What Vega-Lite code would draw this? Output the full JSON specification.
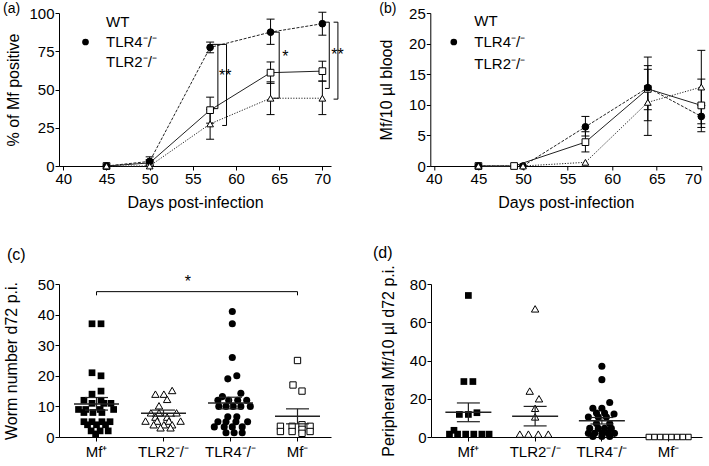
{
"$schema":"https://vega.github.io/schema/vega-lite/v6.json",
"background":"white",
"padding":{"left":2,"top":2,"right":0,"bottom":0},
"spacing":34,
"resolve":{"scale":{"shape":"independent","fill":"independent","xOffset":"independent"},"legend":{"shape":"independent","fill":"independent"}},
"datasets":{
"a":[
{"day":45,"group":"WT","value":0},
{"day":50,"group":"WT","value":2,"lo":0,"hi":4},
{"day":57,"group":"WT","value":36.5,"lo":28,"hi":45},
{"day":64,"group":"WT","value":61,"lo":54,"hi":68},
{"day":70,"group":"WT","value":62,"lo":55.5,"hi":68.5},
{"day":45,"group":"TLR4⁻/⁻","value":0},
{"day":50,"group":"TLR4⁻/⁻","value":3,"lo":0.5,"hi":6},
{"day":57,"group":"TLR4⁻/⁻","value":77.5,"lo":74,"hi":81},
{"day":64,"group":"TLR4⁻/⁻","value":87.5,"lo":79.5,"hi":96},
{"day":70,"group":"TLR4⁻/⁻","value":93,"lo":85.5,"hi":100.5},
{"day":45,"group":"TLR2⁻/⁻","value":0},
{"day":50,"group":"TLR2⁻/⁻","value":0},
{"day":57,"group":"TLR2⁻/⁻","value":27.5,"lo":17.5,"hi":37},
{"day":64,"group":"TLR2⁻/⁻","value":44.3,"lo":33.6,"hi":55},
{"day":70,"group":"TLR2⁻/⁻","value":44.3,"lo":33.6,"hi":55.5}
],
"aAnn":[
{"day":57.9,"day2":57.9,"value":79.5,"value2":37.5},
{"day":57.2,"day2":58.9,"value":79.5,"value2":79.5},
{"day":57.4,"day2":57.9,"value":37.5,"value2":37.5},
{"day":58.9,"day2":58.9,"value":79.5,"value2":26.5},
{"day":58.4,"day2":58.9,"value":26.5,"value2":26.5},
{"day":65,"day2":65,"value":87.5,"value2":44.3},
{"day":64.3,"day2":65,"value":87.5,"value2":87.5},
{"day":64.3,"day2":65,"value":44.3,"value2":44.3},
{"day":70.8,"day2":70.8,"value":94,"value2":50.7},
{"day":70.3,"day2":70.8,"value":94,"value2":94},
{"day":70.3,"day2":70.8,"value":50.7,"value2":50.7},
{"day":71.8,"day2":71.8,"value":94,"value2":43.7},
{"day":71.3,"day2":71.8,"value":94,"value2":94},
{"day":71.3,"day2":71.8,"value":43.7,"value2":43.7}
],
"aStar":[
{"day":58.75,"value":59,"label":"**"},
{"day":65.7,"value":71,"label":"*"},
{"day":71.75,"value":72.5,"label":"**"}
],
"b":[
{"day":45,"group":"WT","value":0},
{"day":49,"group":"WT","value":0},
{"day":57,"group":"WT","value":3.9,"lo":2.3,"hi":5.6},
{"day":64,"group":"WT","value":12.6,"lo":7.4,"hi":17.8},
{"day":70,"group":"WT","value":9.9,"lo":5.6,"hi":14.2},
{"day":45,"group":"TLR4⁻/⁻","value":0},
{"day":50,"group":"TLR4⁻/⁻","value":0},
{"day":57,"group":"TLR4⁻/⁻","value":6.4,"lo":4.9,"hi":8.1},
{"day":64,"group":"TLR4⁻/⁻","value":12.8,"lo":9.2,"hi":16.4},
{"day":70,"group":"TLR4⁻/⁻","value":8.1,"lo":6.3,"hi":9.9},
{"day":45,"group":"TLR2⁻/⁻","value":0},
{"day":50,"group":"TLR2⁻/⁻","value":0},
{"day":57,"group":"TLR2⁻/⁻","value":0.6},
{"day":64,"group":"TLR2⁻/⁻","value":10.4,"lo":5.0,"hi":15.8},
{"day":70,"group":"TLR2⁻/⁻","value":12.9,"lo":6.9,"hi":18.9}
],
"c":[
{"group":"Mf⁺","value":37,"slot":-0.5},{"group":"Mf⁺","value":37,"slot":0.5},
{"group":"Mf⁺","value":21,"slot":-0.5},{"group":"Mf⁺","value":20,"slot":0.5},
{"group":"Mf⁺","value":15,"slot":0.5},{"group":"Mf⁺","value":14,"slot":-0.5},
{"group":"Mf⁺","value":12,"slot":-1.4},{"group":"Mf⁺","value":12,"slot":0.5},
{"group":"Mf⁺","value":11,"slot":-0.5},{"group":"Mf⁺","value":11,"slot":0.8},{"group":"Mf⁺","value":11,"slot":1.6},
{"group":"Mf⁺","value":9,"slot":-2},{"group":"Mf⁺","value":9,"slot":-1.2},{"group":"Mf⁺","value":9,"slot":0.4},{"group":"Mf⁺","value":9,"slot":1.9},
{"group":"Mf⁺","value":8,"slot":-1.4},{"group":"Mf⁺","value":8,"slot":-0.4},{"group":"Mf⁺","value":8,"slot":0.6},
{"group":"Mf⁺","value":5,"slot":-1.4},{"group":"Mf⁺","value":5,"slot":-0.5},{"group":"Mf⁺","value":5,"slot":0.6},{"group":"Mf⁺","value":5,"slot":1.5},
{"group":"Mf⁺","value":4,"slot":-1},{"group":"Mf⁺","value":4,"slot":0},{"group":"Mf⁺","value":4,"slot":1},
{"group":"Mf⁺","value":2,"slot":-0.6},{"group":"Mf⁺","value":2,"slot":0.4},{"group":"Mf⁺","value":2,"slot":1.3},
{"group":"Mf⁺","value":1,"slot":-0.1},
{"group":"TLR2⁻/⁻","value":15.2,"slot":0.96},{"group":"TLR2⁻/⁻","value":14,"slot":-0.9},{"group":"TLR2⁻/⁻","value":14,"slot":0.04},
{"group":"TLR2⁻/⁻","value":12.3,"slot":0.4},{"group":"TLR2⁻/⁻","value":10.2,"slot":-0.5},
{"group":"TLR2⁻/⁻","value":7.9,"slot":-1.4},{"group":"TLR2⁻/⁻","value":7.9,"slot":-0.5},{"group":"TLR2⁻/⁻","value":7.9,"slot":1.45},
{"group":"TLR2⁻/⁻","value":6.5,"slot":-0.9},{"group":"TLR2⁻/⁻","value":6.5,"slot":0.4},
{"group":"TLR2⁻/⁻","value":5.2,"slot":-2},{"group":"TLR2⁻/⁻","value":5.2,"slot":-0.7},{"group":"TLR2⁻/⁻","value":5.2,"slot":0.6},{"group":"TLR2⁻/⁻","value":5.2,"slot":1.9},
{"group":"TLR2⁻/⁻","value":4,"slot":-1.1},{"group":"TLR2⁻/⁻","value":4,"slot":0.04},{"group":"TLR2⁻/⁻","value":4,"slot":0.96},
{"group":"TLR2⁻/⁻","value":3,"slot":-0.33},{"group":"TLR2⁻/⁻","value":3,"slot":0.78},
{"group":"TLR4⁻/⁻","value":41,"slot":0.2},{"group":"TLR4⁻/⁻","value":37,"slot":0.2},{"group":"TLR4⁻/⁻","value":26,"slot":0.2},
{"group":"TLR4⁻/⁻","value":19,"slot":-0.3},{"group":"TLR4⁻/⁻","value":20,"slot":0.7},
{"group":"TLR4⁻/⁻","value":14.3,"slot":1.15},{"group":"TLR4⁻/⁻","value":13.2,"slot":-0.9},
{"group":"TLR4⁻/⁻","value":12,"slot":-1.4},{"group":"TLR4⁻/⁻","value":12,"slot":-0.2},{"group":"TLR4⁻/⁻","value":12,"slot":0.8},{"group":"TLR4⁻/⁻","value":12,"slot":1.8},
{"group":"TLR4⁻/⁻","value":10,"slot":-1.3},{"group":"TLR4⁻/⁻","value":10,"slot":-0.5},{"group":"TLR4⁻/⁻","value":10,"slot":0.3},{"group":"TLR4⁻/⁻","value":10,"slot":1.15},{"group":"TLR4⁻/⁻","value":10,"slot":2.2},
{"group":"TLR4⁻/⁻","value":6.6,"slot":-0.3},{"group":"TLR4⁻/⁻","value":6.6,"slot":0.7},
{"group":"TLR4⁻/⁻","value":5,"slot":-1.4},{"group":"TLR4⁻/⁻","value":5,"slot":-0.5},{"group":"TLR4⁻/⁻","value":5,"slot":0.6},{"group":"TLR4⁻/⁻","value":5,"slot":1.9},
{"group":"TLR4⁻/⁻","value":3.3,"slot":-1.8},{"group":"TLR4⁻/⁻","value":3.3,"slot":-0.7},{"group":"TLR4⁻/⁻","value":3.3,"slot":0.2},{"group":"TLR4⁻/⁻","value":3.3,"slot":1.3},
{"group":"TLR4⁻/⁻","value":1.4,"slot":-0.5},{"group":"TLR4⁻/⁻","value":1.4,"slot":0.4},{"group":"TLR4⁻/⁻","value":1.4,"slot":1.3},
{"group":"Mf⁻","value":25,"slot":0},{"group":"Mf⁻","value":17,"slot":-0.5},{"group":"Mf⁻","value":15,"slot":0.5},
{"group":"Mf⁻","value":3.5,"slot":-1.9},{"group":"Mf⁻","value":1.8,"slot":-1.9},
{"group":"Mf⁻","value":3.5,"slot":-0.6},{"group":"Mf⁻","value":1.8,"slot":-0.6},
{"group":"Mf⁻","value":4,"slot":0.5},{"group":"Mf⁻","value":2.5,"slot":0.5},{"group":"Mf⁻","value":1.2,"slot":0.5},
{"group":"Mf⁻","value":3.5,"slot":1.4},{"group":"Mf⁻","value":1.8,"slot":1.4}
],
"cStats":[
{"group":"Mf⁺","mean":10.8,"lo":8.8,"hi":12.9},
{"group":"TLR2⁻/⁻","mean":7.8,"lo":6.8,"hi":8.8},
{"group":"TLR4⁻/⁻","mean":11.1,"lo":9.2,"hi":13.0},
{"group":"Mf⁻","mean":6.8,"lo":4.3,"hi":9.2}
],
"cSig":[
{"g1":"Mf⁺","g2":"Mf⁻","value":47.5,"value2":47.5},
{"g1":"Mf⁺","g2":"Mf⁺","value":47.5,"value2":46.3},
{"g1":"Mf⁻","g2":"Mf⁻","value":47.5,"value2":46.3}
],
"cStar":[{"group":"TLR2⁻/⁻","slot":2.7,"value":50.8,"label":"*"}],
"d":[
{"group":"Mf⁺","value":74,"slot":0},{"group":"Mf⁺","value":29,"slot":-0.5},{"group":"Mf⁺","value":29,"slot":0.5},
{"group":"Mf⁺","value":11.8,"slot":-1},{"group":"Mf⁺","value":11.8,"slot":0},{"group":"Mf⁺","value":12.7,"slot":0.95},
{"group":"Mf⁺","value":3.5,"slot":-1.6},
{"group":"Mf⁺","value":1.5,"slot":-2.1},{"group":"Mf⁺","value":1.5,"slot":-1.2},{"group":"Mf⁺","value":1.5,"slot":-0.3},{"group":"Mf⁺","value":1.5,"slot":0.6},{"group":"Mf⁺","value":1.5,"slot":1.5},{"group":"Mf⁺","value":1.5,"slot":2.3},
{"group":"TLR2⁻/⁻","value":67,"slot":0},{"group":"TLR2⁻/⁻","value":24,"slot":-0.6},{"group":"TLR2⁻/⁻","value":20,"slot":0.43},
{"group":"TLR2⁻/⁻","value":15,"slot":0},{"group":"TLR2⁻/⁻","value":10.5,"slot":0},
{"group":"TLR2⁻/⁻","value":1.5,"slot":-1.7},{"group":"TLR2⁻/⁻","value":1.5,"slot":-0.75},{"group":"TLR2⁻/⁻","value":1.5,"slot":0.35},{"group":"TLR2⁻/⁻","value":1.5,"slot":1.46},
{"group":"TLR4⁻/⁻","value":37,"slot":0},{"group":"TLR4⁻/⁻","value":30,"slot":0},{"group":"TLR4⁻/⁻","value":18,"slot":0.87},
{"group":"TLR4⁻/⁻","value":15,"slot":-1},{"group":"TLR4⁻/⁻","value":15,"slot":0},
{"group":"TLR4⁻/⁻","value":12.5,"slot":-0.6},{"group":"TLR4⁻/⁻","value":12.5,"slot":0.3},{"group":"TLR4⁻/⁻","value":12,"slot":1.35},
{"group":"TLR4⁻/⁻","value":10.5,"slot":-1.5},{"group":"TLR4⁻/⁻","value":10.5,"slot":-0.4},{"group":"TLR4⁻/⁻","value":10.5,"slot":0.5},
{"group":"TLR4⁻/⁻","value":7.1,"slot":-0.6},{"group":"TLR4⁻/⁻","value":7.1,"slot":0.87},
{"group":"TLR4⁻/⁻","value":4.5,"slot":-1.35},{"group":"TLR4⁻/⁻","value":4.5,"slot":-0.4},{"group":"TLR4⁻/⁻","value":4.5,"slot":0.3},{"group":"TLR4⁻/⁻","value":4.5,"slot":1.05},
{"group":"TLR4⁻/⁻","value":1.9,"slot":-1.5},{"group":"TLR4⁻/⁻","value":1.9,"slot":-0.8},{"group":"TLR4⁻/⁻","value":1.9,"slot":0},{"group":"TLR4⁻/⁻","value":1.9,"slot":0.7},{"group":"TLR4⁻/⁻","value":1.9,"slot":1.4},
{"group":"TLR4⁻/⁻","value":0.3,"slot":-1},{"group":"TLR4⁻/⁻","value":0.3,"slot":0},{"group":"TLR4⁻/⁻","value":0.3,"slot":0.87},
{"group":"Mf⁻","value":0,"slot":-2.2},{"group":"Mf⁻","value":0,"slot":-1.57},{"group":"Mf⁻","value":0,"slot":-0.94},{"group":"Mf⁻","value":0,"slot":-0.31},
{"group":"Mf⁻","value":0,"slot":0.31},{"group":"Mf⁻","value":0,"slot":0.94},{"group":"Mf⁻","value":0,"slot":1.57},{"group":"Mf⁻","value":0,"slot":2.2}
],
"dStats":[
{"group":"Mf⁺","mean":12.9,"lo":8.0,"hi":17.8},
{"group":"TLR2⁻/⁻","mean":10.8,"lo":5.8,"hi":16.0},
{"group":"TLR4⁻/⁻","mean":8.5,"lo":6.8,"hi":10.2}
]
},
"vconcat":[
{"hconcat":[
{
"width":272,"height":153,
"title":{"text":"(a)","offset":-10,"dx":-3,"fontSize":14},
"layer":[
{"data":{"name":"a"},"transform":[{"filter":{"field":"group","equal":"WT"}}],"mark":{"type":"line","stroke":"#222","strokeWidth":1},
"encoding":{
"x":{"field":"day","type":"quantitative","title":"Days post-infection","scale":{"domain":[39.5,71],"nice":false,"zero":false},"axis":{"values":[40,45,50,55,60,65,70],"tickCount":20}},
"y":{"field":"value","type":"quantitative","title":"% of Mf positive","scale":{"domain":[0,100],"nice":false},"axis":{"values":[0,25,50,75,100],"tickCount":20,"titlePadding":7}}}},
{"data":{"name":"a"},"transform":[{"filter":{"field":"group","equal":"TLR4⁻/⁻"}}],"mark":{"type":"line","stroke":"#222","strokeWidth":1,"strokeDash":[3,1.5]},
"encoding":{"x":{"field":"day","type":"quantitative","title":"Days post-infection"},"y":{"field":"value","type":"quantitative","title":"% of Mf positive"}}},
{"data":{"name":"a"},"transform":[{"filter":{"field":"group","equal":"TLR2⁻/⁻"}}],"mark":{"type":"line","stroke":"#222","strokeWidth":1,"strokeDash":[1.2,1.5]},
"encoding":{"x":{"field":"day","type":"quantitative","title":"Days post-infection"},"y":{"field":"value","type":"quantitative","title":"% of Mf positive"}}},
{"data":{"name":"a"},"transform":[{"filter":{"field":"lo","valid":true}}],"mark":{"type":"rule","color":"#000","strokeWidth":1},
"encoding":{"x":{"field":"day","type":"quantitative","title":"Days post-infection"},"y":{"field":"lo","type":"quantitative","title":"% of Mf positive"},"y2":{"field":"hi"}}},
{"data":{"name":"a"},"transform":[{"filter":{"field":"lo","valid":true}},{"fold":["lo","hi"],"as":["end","value"]}],"mark":{"type":"tick","orient":"horizontal","size":8,"thickness":1,"color":"#000","opacity":1},
"encoding":{"x":{"field":"day","type":"quantitative","title":"Days post-infection"},"y":{"field":"value","type":"quantitative","title":"% of Mf positive"}}},
{"data":{"name":"aAnn"},"mark":{"type":"rule","color":"#000","strokeWidth":1},
"encoding":{"x":{"field":"day","type":"quantitative","title":"Days post-infection"},"x2":{"field":"day2"},"y":{"field":"value","type":"quantitative","title":"% of Mf positive"},"y2":{"field":"value2"}}},
{"data":{"name":"aStar"},"mark":{"type":"text","fontSize":16,"baseline":"middle","align":"center","color":"#000"},
"encoding":{"x":{"field":"day","type":"quantitative","title":"Days post-infection"},"y":{"field":"value","type":"quantitative","title":"% of Mf positive"},"text":{"field":"label"}}},
{"data":{"name":"a"},"mark":{"type":"point","filled":true,"stroke":"#000","strokeWidth":1,"size":45,"opacity":1},
"encoding":{"x":{"field":"day","type":"quantitative","title":"Days post-infection"},"y":{"field":"value","type":"quantitative","title":"% of Mf positive"},
"shape":{"field":"group","type":"nominal","scale":{"domain":["WT","TLR4⁻/⁻","TLR2⁻/⁻"],"range":["square","circle","triangle-up"]},
"legend":{"orient":"none","legendX":19,"legendY":1.5,"title":null,"symbolSize":45,"symbolStrokeColor":"#000","symbolStrokeWidth":1,"labelOffset":13,"rowPadding":4}},
"fill":{"field":"group","type":"nominal","scale":{"domain":["WT","TLR4⁻/⁻","TLR2⁻/⁻"],"range":["white","black","white"]},
"legend":{"orient":"none","legendX":19,"legendY":1.5,"title":null,"symbolSize":45,"symbolStrokeColor":"#000","symbolStrokeWidth":1,"labelOffset":13,"rowPadding":4}}}}
]
},
{
"width":271,"height":153,
"title":{"text":"(b)","offset":-10,"dx":1,"fontSize":14},
"layer":[
{"data":{"name":"b"},"transform":[{"filter":{"field":"group","equal":"WT"}}],"mark":{"type":"line","stroke":"#222","strokeWidth":1},
"encoding":{
"x":{"field":"day","type":"quantitative","title":"Days post-infection","scale":{"domain":[39.6,70],"nice":false,"zero":false},"axis":{"values":[40,45,50,55,60,65,70],"tickCount":20}},
"y":{"field":"value","type":"quantitative","title":"Mf/10 µl blood","scale":{"domain":[0,25],"nice":false},"axis":{"values":[0,5,10,15,20,25],"tickCount":20,"titlePadding":14.3}}}},
{"data":{"name":"b"},"transform":[{"filter":{"field":"group","equal":"TLR4⁻/⁻"}}],"mark":{"type":"line","stroke":"#222","strokeWidth":1,"strokeDash":[3,1.5]},
"encoding":{"x":{"field":"day","type":"quantitative","title":"Days post-infection"},"y":{"field":"value","type":"quantitative","title":"Mf/10 µl blood"}}},
{"data":{"name":"b"},"transform":[{"filter":{"field":"group","equal":"TLR2⁻/⁻"}}],"mark":{"type":"line","stroke":"#222","strokeWidth":1,"strokeDash":[1.2,1.5]},
"encoding":{"x":{"field":"day","type":"quantitative","title":"Days post-infection"},"y":{"field":"value","type":"quantitative","title":"Mf/10 µl blood"}}},
{"data":{"name":"b"},"transform":[{"filter":{"field":"lo","valid":true}}],"mark":{"type":"rule","color":"#000","strokeWidth":1},
"encoding":{"x":{"field":"day","type":"quantitative","title":"Days post-infection"},"y":{"field":"lo","type":"quantitative","title":"Mf/10 µl blood"},"y2":{"field":"hi"}}},
{"data":{"name":"b"},"transform":[{"filter":{"field":"lo","valid":true}},{"fold":["lo","hi"],"as":["end","value"]}],"mark":{"type":"tick","orient":"horizontal","size":8,"thickness":1,"color":"#000","opacity":1},
"encoding":{"x":{"field":"day","type":"quantitative","title":"Days post-infection"},"y":{"field":"value","type":"quantitative","title":"Mf/10 µl blood"}}},
{"data":{"name":"b"},"mark":{"type":"point","filled":true,"stroke":"#000","strokeWidth":1,"size":45,"opacity":1},
"encoding":{"x":{"field":"day","type":"quantitative","title":"Days post-infection"},"y":{"field":"value","type":"quantitative","title":"Mf/10 µl blood"},
"shape":{"field":"group","type":"nominal","scale":{"domain":["WT","TLR4⁻/⁻","TLR2⁻/⁻"],"range":["square","circle","triangle-up"]},
"legend":{"orient":"none","legendX":16,"legendY":0,"title":null,"symbolSize":45,"symbolStrokeColor":"#000","symbolStrokeWidth":1,"labelOffset":13,"rowPadding":5.5}},
"fill":{"field":"group","type":"nominal","scale":{"domain":["WT","TLR4⁻/⁻","TLR2⁻/⁻"],"range":["white","black","white"]},
"legend":{"orient":"none","legendX":16,"legendY":0,"title":null,"symbolSize":45,"symbolStrokeColor":"#000","symbolStrokeWidth":1,"labelOffset":13,"rowPadding":5.5}}}}
]
}
],"spacing":34.3,
"resolve":{"scale":{"shape":"independent","fill":"independent"},"legend":{"shape":"independent","fill":"independent"}}},
{"hconcat":[
{
"width":272,"height":153,
"title":{"text":"(c)","offset":11,"dx":4},
"layer":[
{"data":{"name":"c"},"transform":[{"filter":{"field":"group","equal":"Mf⁺"}}],"mark":{"type":"point","shape":"square","filled":true,"color":"#000","size":45,"opacity":1},
"encoding":{
"x":{"field":"group","type":"nominal","scale":{"type":"band","domain":["Mf⁺","TLR2⁻/⁻","TLR4⁻/⁻","Mf⁻"],"paddingInner":0,"paddingOuter":0.03,"align":1},"axis":{"title":null,"labelAngle":0,"labelPadding":3}},
"xOffset":{"field":"slot","type":"quantitative","scale":{"domain":[-3.722,3.722],"range":[0,67]}},
"y":{"field":"value","type":"quantitative","title":"Worm number d72 p.i.","scale":{"domain":[0,50],"nice":false},"axis":{"values":[0,10,20,30,40,50],"tickCount":20,"titlePadding":18.3}}}},
{"data":{"name":"c"},"transform":[{"filter":{"field":"group","equal":"TLR2⁻/⁻"}}],"mark":{"type":"point","shape":"triangle-up","filled":true,"fill":"white","stroke":"#000","strokeWidth":1,"size":55,"opacity":1},
"encoding":{"x":{"field":"group","type":"nominal"},"xOffset":{"field":"slot","type":"quantitative"},"y":{"field":"value","type":"quantitative","title":"Worm number d72 p.i."}}},
{"data":{"name":"c"},"transform":[{"filter":{"field":"group","equal":"TLR4⁻/⁻"}}],"mark":{"type":"point","shape":"circle","filled":true,"color":"#000","size":50,"opacity":1},
"encoding":{"x":{"field":"group","type":"nominal"},"xOffset":{"field":"slot","type":"quantitative"},"y":{"field":"value","type":"quantitative","title":"Worm number d72 p.i."}}},
{"data":{"name":"c"},"transform":[{"filter":{"field":"group","equal":"Mf⁻"}}],"mark":{"type":"point","shape":"square","filled":true,"fill":"white","stroke":"#000","strokeWidth":1,"size":40,"opacity":1},
"encoding":{"x":{"field":"group","type":"nominal"},"xOffset":{"field":"slot","type":"quantitative"},"y":{"field":"value","type":"quantitative","title":"Worm number d72 p.i."}}},
{"data":{"name":"cStats"},"mark":{"type":"tick","orient":"horizontal","size":45,"thickness":1.5,"color":"#222","opacity":1},
"encoding":{"x":{"field":"group","type":"nominal"},"y":{"field":"mean","type":"quantitative","title":"Worm number d72 p.i."}}},
{"data":{"name":"cStats"},"mark":{"type":"rule","color":"#222","strokeWidth":1.2},
"encoding":{"x":{"field":"group","type":"nominal"},"y":{"field":"lo","type":"quantitative","title":"Worm number d72 p.i."},"y2":{"field":"hi"}}},
{"data":{"name":"cStats"},"transform":[{"fold":["lo","hi"],"as":["end","v"]}],"mark":{"type":"tick","orient":"horizontal","size":23,"thickness":1.2,"color":"#222","opacity":1},
"encoding":{"x":{"field":"group","type":"nominal"},"y":{"field":"v","type":"quantitative","title":"Worm number d72 p.i."}}},
{"data":{"name":"cSig"},"mark":{"type":"rule","color":"#000","strokeWidth":1},
"encoding":{"x":{"field":"g1","type":"nominal"},"x2":{"field":"g2"},"y":{"field":"value","type":"quantitative","title":"Worm number d72 p.i."},"y2":{"field":"value2"}}},
{"data":{"name":"cStar"},"mark":{"type":"text","fontSize":16,"baseline":"middle","align":"center","color":"#000"},
"encoding":{"x":{"field":"group","type":"nominal"},"xOffset":{"field":"slot","type":"quantitative"},"y":{"field":"value","type":"quantitative","title":"Worm number d72 p.i."},"text":{"field":"label"}}}
]
},
{
"width":271,"height":153,
"title":{"text":"(d)","offset":4,"dx":-7},
"layer":[
{"data":{"name":"d"},"transform":[{"filter":{"field":"group","equal":"Mf⁺"}}],"mark":{"type":"point","shape":"square","filled":true,"color":"#000","size":45,"opacity":1},
"encoding":{
"x":{"field":"group","type":"nominal","scale":{"type":"band","domain":["Mf⁺","TLR2⁻/⁻","TLR4⁻/⁻","Mf⁻"],"paddingInner":0,"paddingOuter":0.03,"align":1},"axis":{"title":null,"labelAngle":0,"labelPadding":3}},
"xOffset":{"field":"slot","type":"quantitative","scale":{"domain":[-3.708,3.708],"range":[0,66.75]}},
"y":{"field":"value","type":"quantitative","title":"Peripheral Mf/10 µl d72 p.i.","scale":{"domain":[0,80],"nice":false},"axis":{"values":[0,20,40,60,80],"tickCount":20,"titlePadding":13.3}}}},
{"data":{"name":"d"},"transform":[{"filter":{"field":"group","equal":"TLR2⁻/⁻"}}],"mark":{"type":"point","shape":"triangle-up","filled":true,"fill":"white","stroke":"#000","strokeWidth":1,"size":55,"opacity":1},
"encoding":{"x":{"field":"group","type":"nominal"},"xOffset":{"field":"slot","type":"quantitative"},"y":{"field":"value","type":"quantitative","title":"Peripheral Mf/10 µl d72 p.i."}}},
{"data":{"name":"d"},"transform":[{"filter":{"field":"group","equal":"TLR4⁻/⁻"}}],"mark":{"type":"point","shape":"circle","filled":true,"color":"#000","size":50,"opacity":1},
"encoding":{"x":{"field":"group","type":"nominal"},"xOffset":{"field":"slot","type":"quantitative"},"y":{"field":"value","type":"quantitative","title":"Peripheral Mf/10 µl d72 p.i."}}},
{"data":{"name":"d"},"transform":[{"filter":{"field":"group","equal":"Mf⁻"}}],"mark":{"type":"point","shape":"square","filled":true,"fill":"white","stroke":"#000","strokeWidth":1,"size":30,"opacity":1},
"encoding":{"x":{"field":"group","type":"nominal"},"xOffset":{"field":"slot","type":"quantitative"},"y":{"field":"value","type":"quantitative","title":"Peripheral Mf/10 µl d72 p.i."}}},
{"data":{"name":"dStats"},"mark":{"type":"tick","orient":"horizontal","size":46,"thickness":1.5,"color":"#222","opacity":1},
"encoding":{"x":{"field":"group","type":"nominal"},"y":{"field":"mean","type":"quantitative","title":"Peripheral Mf/10 µl d72 p.i."}}},
{"data":{"name":"dStats"},"mark":{"type":"rule","color":"#222","strokeWidth":1.2},
"encoding":{"x":{"field":"group","type":"nominal"},"y":{"field":"lo","type":"quantitative","title":"Peripheral Mf/10 µl d72 p.i."},"y2":{"field":"hi"}}},
{"data":{"name":"dStats"},"transform":[{"fold":["lo","hi"],"as":["end","v"]}],"mark":{"type":"tick","orient":"horizontal","size":23,"thickness":1.2,"color":"#222","opacity":1},
"encoding":{"x":{"field":"group","type":"nominal"},"y":{"field":"v","type":"quantitative","title":"Peripheral Mf/10 µl d72 p.i."}}}
]
}
],"spacing":42,
"resolve":{"scale":{"xOffset":"independent"}}}
],
"config":{
"font":"Liberation Sans",
"view":{"stroke":null},
"axis":{"grid":false,"labelFont":"Liberation Sans","titleFont":"Liberation Sans","labelFontSize":15,"titleFontSize":16,"titleFontWeight":"normal","labelColor":"#000","titleColor":"#000","domainColor":"#000","tickColor":"#000","tickSize":4,"labelPadding":1,"domainWidth":1,"tickWidth":1,"titlePadding":8},
"legend":{"labelFont":"Liberation Sans","labelFontSize":15,"labelColor":"#000"},
"title":{"font":"Liberation Sans","fontSize":16,"fontWeight":"normal","anchor":"start","frame":"bounds","color":"#000"}
}
}
